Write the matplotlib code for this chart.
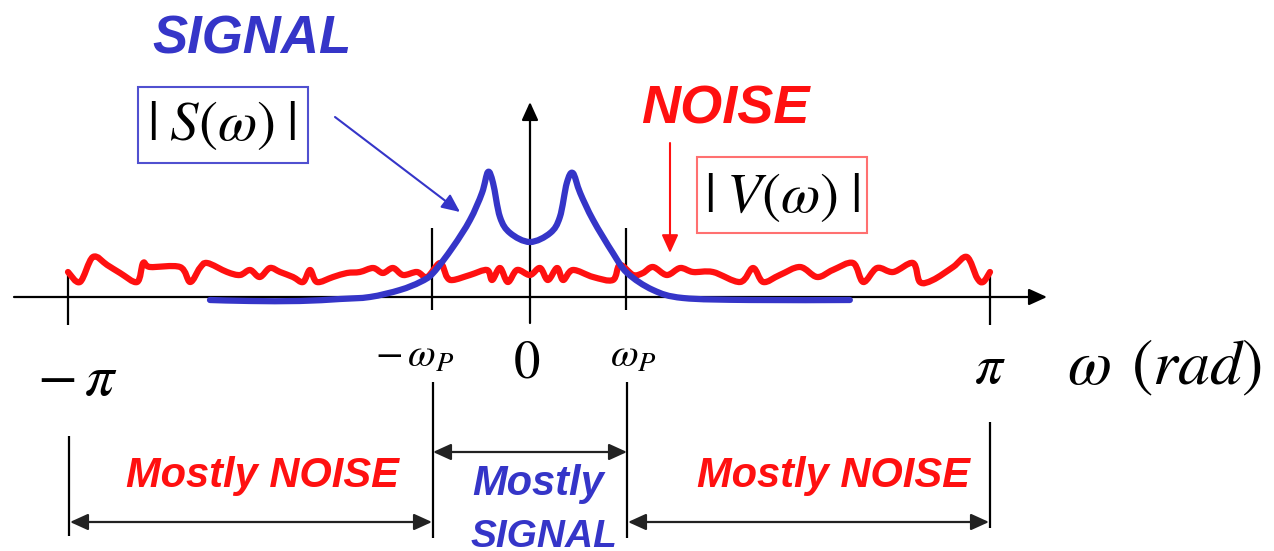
import matplotlib
matplotlib.use("Agg")
import matplotlib.pyplot as plt
from matplotlib.patches import Rectangle, PathPatch
from matplotlib.path import Path

plt.rcParams['mathtext.fontset'] = 'stix'

# frequency in units of pi, magnitude in arbitrary units
noise_w = [-1.000, -0.974, -0.946, -0.915, -0.887, -0.850, -0.837, -0.822, -0.757, -0.735,
           -0.714, -0.698, -0.655, -0.627, -0.605, -0.584, -0.562, -0.540, -0.512, -0.490,
           -0.475, -0.460, -0.425, -0.395, -0.367, -0.338, -0.317, -0.295, -0.273, -0.243,
           -0.221, -0.193, -0.178, -0.165, -0.128, -0.091, -0.080, -0.063, -0.046, -0.026,
           0.002, 0.024, 0.041, 0.061, 0.074, 0.095, 0.139, 0.182, 0.197, 0.226,
           0.247, 0.269, 0.299, 0.328, 0.356, 0.399, 0.458, 0.486, 0.508, 0.544,
           0.588, 0.625, 0.659, 0.703, 0.725, 0.755, 0.790, 0.833, 0.848, 0.876,
           0.920, 0.950, 0.972, 0.985, 1.000]
noise_mag = [0.25, 0.15, 0.40, 0.32, 0.24, 0.15, 0.34, 0.30, 0.30, 0.15,
             0.29, 0.34, 0.25, 0.22, 0.27, 0.20, 0.29, 0.25, 0.20, 0.15,
             0.27, 0.15, 0.20, 0.24, 0.25, 0.29, 0.24, 0.29, 0.22, 0.25,
             0.20, 0.34, 0.20, 0.17, 0.22, 0.27, 0.17, 0.29, 0.15, 0.27,
             0.22, 0.29, 0.17, 0.29, 0.17, 0.27, 0.20, 0.17, 0.32, 0.22,
             0.24, 0.30, 0.22, 0.29, 0.25, 0.25, 0.15, 0.29, 0.15, 0.22,
             0.30, 0.20, 0.27, 0.34, 0.15, 0.29, 0.25, 0.34, 0.15, 0.17,
             0.30, 0.40, 0.19, 0.15, 0.25]

signal_w = [-0.692, -0.605, -0.497, -0.410, -0.345, -0.280, -0.236, -0.208, -0.165, -0.128,
            -0.102, -0.089, -0.078, -0.063, -0.041, 0.002, 0.046, 0.067, 0.082,
            0.095, 0.111, 0.139, 0.182, 0.213, 0.269, 0.334, 0.479, 0.696]
signal_mag = [-0.03, -0.04, -0.04, -0.02, 0.00, 0.07, 0.15, 0.24, 0.50, 0.77,
              1.04, 1.25, 1.14, 0.80, 0.64, 0.55, 0.64, 0.80, 1.14,
              1.24, 1.04, 0.77, 0.44, 0.24, 0.07, -0.01, -0.03, -0.03]

tick_pos = [-1.0, -0.21, 0.0, 0.21, 1.0]
tick_labels = [r'$-\,\pi$', r'$-\,\omega_P$', r'$0$', r'$\omega_P$', r'$\pi$']

SIG_BLUE = '#3535c8'
RED = '#ff1010'


def P(x, y):
    """pixel position of the reference -> data coords"""
    return ((x - 529) / 461, (297 - y) / 100)


def smooth_path(xs, ys, t=1 / 6):
    # catmull-rom style bezier, goes through every point but rounds the corners
    pts = list(zip(xs, ys))
    n = len(pts)
    verts = [pts[0]]
    codes = [Path.MOVETO]
    for i in range(n - 1):
        p0 = pts[max(i - 1, 0)]
        p1 = pts[i]
        p2 = pts[i + 1]
        p3 = pts[min(i + 2, n - 1)]
        c1 = (p1[0] + (p2[0] - p0[0]) * t, p1[1] + (p2[1] - p0[1]) * t)
        c2 = (p2[0] - (p3[0] - p1[0]) * t, p2[1] - (p3[1] - p1[1]) * t)
        verts += [c1, c2, p2]
        codes += [Path.CURVE4] * 3
    return Path(verts, codes)


def arrow(ax, start, end, color='black', lw=1.6, style='-|>', hl=0.55, hw=0.25):
    ax.annotate('', xy=P(*end), xytext=P(*start),
                arrowprops=dict(arrowstyle=f'{style},head_length={hl},head_width={hw}',
                                color=color, lw=lw, mutation_scale=20,
                                shrinkA=0, shrinkB=0))


def vline(ax, x, y0, y1, color='black', lw=1.6):
    ax.plot([P(x, y0)[0]] * 2, [P(x, y0)[1], P(x, y1)[1]], color=color, lw=lw,
            solid_capstyle='butt')


fig = plt.figure(figsize=(12.74, 5.51), dpi=100)
ax = fig.add_axes([0, 0, 1, 1])
ax.set_xlim(-529 / 461, (1274 - 529) / 461)
ax.set_ylim((297 - 551) / 100, 297 / 100)
ax.axis('off')

# axes
arrow(ax, (14, 297), (1047, 297))
arrow(ax, (530, 323), (530, 102))

# tick marks at -pi, -wp, wp, pi
for w in tick_pos:
    if w == 0.0:
        continue
    px = 529 + 461 * w
    if abs(w) == 1.0:
        vline(ax, px, 270, 325)
    else:
        vline(ax, px, 228, 310)

# curves
ax.add_patch(PathPatch(smooth_path(noise_w, noise_mag), fill=False, edgecolor=RED,
                       lw=4.5, joinstyle='round', capstyle='round', zorder=3))
ax.add_patch(PathPatch(smooth_path(signal_w, signal_mag), fill=False, edgecolor=SIG_BLUE,
                       lw=4.5, joinstyle='round', capstyle='round', zorder=4))

# tick labels
label_px = [(77, 379, 42), (415, 356, 29), (527, 362, 38), (633, 356, 29), (990, 368, 40)]
for (lx, ly, fs), lab in zip(label_px, tick_labels):
    ax.text(*P(lx, ly), lab, fontsize=fs, ha='center', va='center')
ax.text(*P(1164, 367), r'$\omega\;\,(rad)$', fontsize=46, ha='center', va='center')

# titles
ax.text(*P(252, 53), 'SIGNAL', fontsize=38, fontweight='bold', style='italic',
        family='Liberation Sans', color=SIG_BLUE, ha='center', va='baseline')
ax.text(*P(725, 123), 'NOISE', fontsize=39, fontweight='bold', style='italic',
        family='Liberation Sans', color=RED, ha='center', va='baseline')

# boxed labels
ax.add_patch(Rectangle(P(138, 163), 170 / 461, 76 / 100, fill=False,
                       edgecolor='#5050d0', lw=1.5))
ax.text(*P(222, 125), r'$|\;S(\omega)\;|$', fontsize=41, ha='center', va='center')
ax.add_patch(Rectangle(P(697, 233), 170 / 461, 76 / 100, fill=False,
                       edgecolor='#ff7070', lw=1.5))
ax.text(*P(782, 196), r'$|\;V(\omega)\;|$', fontsize=41, ha='center', va='center')

arrow(ax, (335, 117), (460, 212), color=SIG_BLUE, lw=1.5)
arrow(ax, (670, 143), (670, 253), color=RED, lw=1.5)

# region markers below the axis
vline(ax, 69, 436, 536)
vline(ax, 433, 382, 538)
vline(ax, 627, 382, 538)
vline(ax, 990, 422, 528)
arrow(ax, (433, 452), (627, 452), color='#222222', style='<|-|>')
arrow(ax, (70, 522), (432, 522), color='#222222', style='<|-|>')
arrow(ax, (628, 522), (989, 522), color='#222222', style='<|-|>')

ax.text(*P(262, 487), 'Mostly NOISE', fontsize=30, fontweight='bold', style='italic',
        family='Liberation Sans', color=RED, ha='center', va='baseline')
ax.text(*P(833, 487), 'Mostly NOISE', fontsize=30, fontweight='bold', style='italic',
        family='Liberation Sans', color=RED, ha='center', va='baseline')
ax.text(*P(538, 495), 'Mostly', fontsize=30, fontweight='bold', style='italic',
        family='Liberation Sans', color=SIG_BLUE, ha='center', va='baseline')
ax.text(*P(544, 547), 'SIGNAL', fontsize=28, fontweight='bold', style='italic',
        family='Liberation Sans', color=SIG_BLUE, ha='center', va='baseline')

fig.savefig('out.png', dpi=100)
